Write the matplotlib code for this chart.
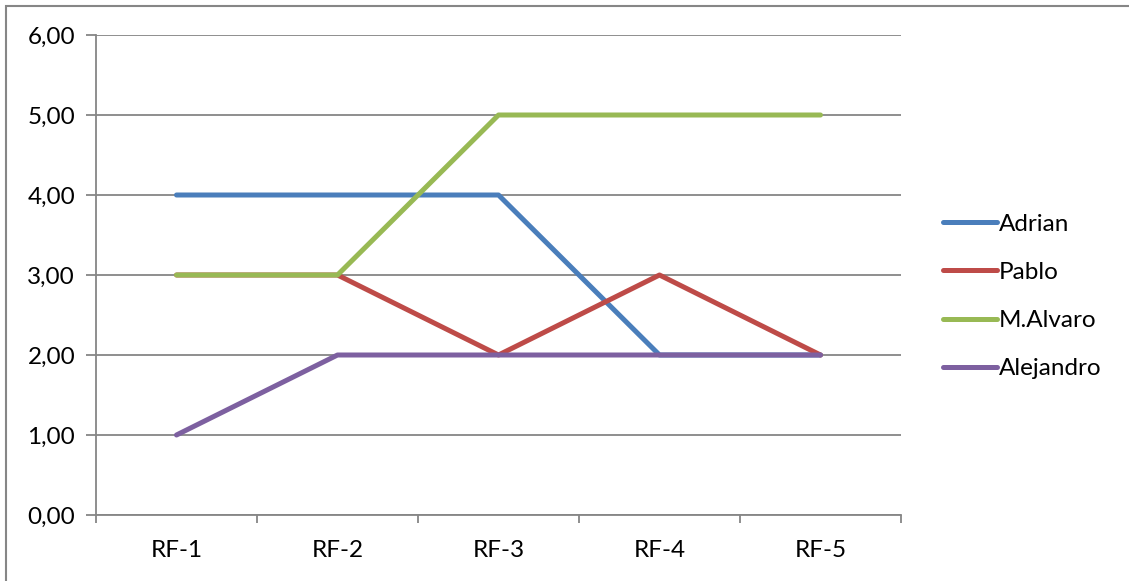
import matplotlib
matplotlib.use("Agg")
import matplotlib.pyplot as plt
from matplotlib.patches import Rectangle
from matplotlib.ticker import FixedLocator, FuncFormatter

plt.rcParams.update({'font.family': ['Lato', 'DejaVu Sans'], 'font.size': 17.5})

# Datos
categorias = ['RF-1', 'RF-2', 'RF-3', 'RF-4', 'RF-5']
adrian = [4, 4, 4, 2, 2]
pablo = [3, 3, 2, 3, 2]
m_alvaro = [3, 3, 5, 5, 5]
alejandro = [1, 2, 2, 2, 2]

series = [
    ('Adrian', adrian, '#4A7EBB'),
    ('Pablo', pablo, '#BE4B48'),
    ('M.Alvaro', m_alvaro, '#98B954'),
    ('Alejandro', alejandro, '#7D60A0'),
]

W, H = 1129, 581
fig = plt.figure(figsize=(W / 100, H / 100), dpi=100)

# Marco exterior del gráfico
fig.patches.append(Rectangle((5.5 / W, -0.1), 2, 1.1 - 6 / H, transform=fig.transFigure,
                             fill=False, edgecolor='#868686', linewidth=1.5))

ax = fig.add_axes([96 / W, (H - 515) / H, 805 / W, 480 / H])

x = list(range(len(categorias)))
for nombre, valores, color in series:
    ax.plot(x, valores, color=color, linewidth=3.6, solid_capstyle='round',
            solid_joinstyle='round', label=nombre)

ax.set_xlim(-0.5, len(categorias) - 0.5)
ax.set_ylim(0, 6)

# Eje Y con coma decimal
ax.set_yticks(range(0, 7))
ax.yaxis.set_major_formatter(FuncFormatter(lambda v, p: f'{v:.2f}'.replace('.', ',')))
ax.yaxis.grid(True, color='#868686', linewidth=1.3)
ax.set_axisbelow(True)
ax.tick_params(axis='y', direction='out', length=7, width=1.3, color='#868686', pad=8)

# Eje X: marcas entre categorías, etiquetas centradas
ax.xaxis.set_major_locator(FixedLocator([i - 0.5 for i in range(len(categorias) + 1)]))
ax.xaxis.set_major_formatter(FuncFormatter(lambda v, p: ''))
ax.xaxis.set_minor_locator(FixedLocator(x))
ax.set_xticklabels(categorias, minor=True)
ax.tick_params(axis='x', which='major', direction='out', length=6, width=1.3, color='#868686')
ax.tick_params(axis='x', which='minor', length=0, pad=18)

for s in ['top', 'right']:
    ax.spines[s].set_visible(False)
for s in ['left', 'bottom']:
    ax.spines[s].set_color('#868686')
    ax.spines[s].set_linewidth(1.3)

# Leyenda
fig.legend(loc='center left', bbox_to_anchor=(931 / W, (H - 296.5) / H), frameon=False,
           handlelength=2.2, handletextpad=0.1, labelspacing=1.12, borderpad=0)

fig.savefig('out.png', dpi=100)
